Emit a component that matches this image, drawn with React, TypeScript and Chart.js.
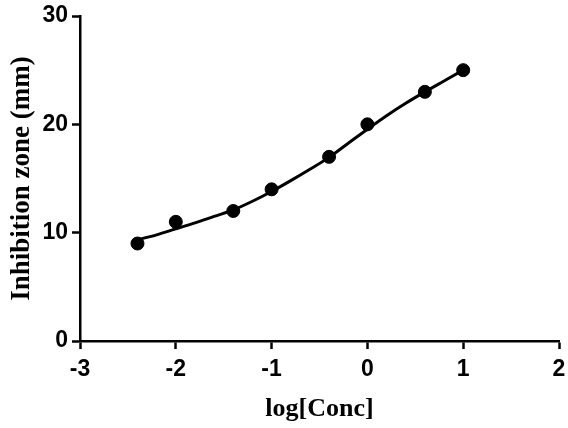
import React, { useEffect, useRef } from "react";
import { Chart, registerables } from "chart.js";

Chart.register(...registerables);

const xTicks = [-3, -2, -1, 0, 1, 2];
const yTicks = [0, 10, 20, 30];

const logConc = [-2.4, -2, -1.4, -1, -0.4, 0, 0.6, 1];
const zone = [9, 11, 12, 14, 17, 20, 23, 25];

const fitX = [-2.4, -2.2, -2.0, -1.8, -1.6, -1.4, -1.2, -1.0, -0.8, -0.6, -0.4, -0.2, 0.0, 0.2, 0.4, 0.6, 0.8, 1.0];
const fitY = [9.35, 9.8, 10.35, 10.9, 11.5, 12.1, 12.9, 13.8, 14.8, 15.85, 16.95, 18.25, 19.55, 20.8, 21.95, 23.0, 24.0, 25.0];

export default function App() {
  const ref = useRef<HTMLCanvasElement | null>(null);
  useEffect(() => {
    if (!ref.current) return;
    const chart = new Chart(ref.current, {
      type: "scatter",
      data: {
        datasets: [
          {
            label: "data",
            data: logConc.map((x, i) => ({ x, y: zone[i] })),
            backgroundColor: "#000",
            borderColor: "#000",
            pointRadius: 6.5,
            pointHoverRadius: 6.5,
            showLine: false,
          },
          {
            label: "fit",
            data: fitX.map((x, i) => ({ x, y: fitY[i] })),
            borderColor: "#000",
            borderWidth: 3,
            pointRadius: 0,
            showLine: true,
            cubicInterpolationMode: "monotone",
          },
        ],
      },
      options: {
        animation: false,
        responsive: false,
        maintainAspectRatio: false,
        layout: { padding: { top: 16, right: 9, left: 0, bottom: 0 } },
        plugins: { legend: { display: false }, tooltip: { enabled: false } },
        scales: {
          x: {
            type: "linear",
            min: -3,
            max: 2,
            afterBuildTicks: (s: any) => {
              s.ticks = xTicks.map((v) => ({ value: v }));
            },
            afterFit: (s: any) => {
              s.height = 87;
              s.paddingRight = 0;
              s.paddingLeft = 0;
            },
            grid: {
              display: true,
              drawOnChartArea: false,
              drawTicks: true,
              tickLength: 8,
              tickWidth: 2.5,
              tickColor: "#000",
              color: "#000",
            },
            border: { display: true, color: "#000", width: 2.5 },
            ticks: {
              color: "#000",
              padding: 7,
              maxRotation: 0,
              font: { family: "Liberation Sans, Arial", size: 23, weight: "bold" },
            },
            title: {
              display: true,
              text: "log[Conc]",
              color: "#000",
              padding: { top: 0, bottom: 3 },
              font: { family: "Liberation Serif, Times New Roman", size: 26, weight: "bold" },
            },
          },
          y: {
            type: "linear",
            min: 0,
            max: 30,
            afterBuildTicks: (s: any) => {
              s.ticks = yTicks.map((v) => ({ value: v }));
            },
            afterFit: (s: any) => {
              s.width = 80;
              s.paddingTop = 0;
              s.paddingBottom = 0;
            },
            grid: {
              display: true,
              drawOnChartArea: false,
              drawTicks: true,
              tickLength: 8,
              tickWidth: 2.5,
              tickColor: "#000",
              color: "#000",
            },
            border: { display: true, color: "#000", width: 2.5 },
            ticks: {
              color: "#000",
              padding: 4,
              font: { family: "Liberation Sans, Arial", size: 23, weight: "bold" },
            },
            title: {
              display: true,
              text: "Inhibition zone (mm)",
              color: "#000",
              padding: { top: 6, bottom: 0 },
              font: { family: "Liberation Serif, Times New Roman", size: 27, weight: "bold" },
            },
          },
        },
      },
    });
    return () => chart.destroy();
  }, []);
  return (
    <div style={{ position: "fixed", left: 0, top: 0, width: 568, height: 428, background: "#fff" }}>
      <canvas ref={ref} width={568} height={428} style={{ display: "block" }} />
    </div>
  );
}
